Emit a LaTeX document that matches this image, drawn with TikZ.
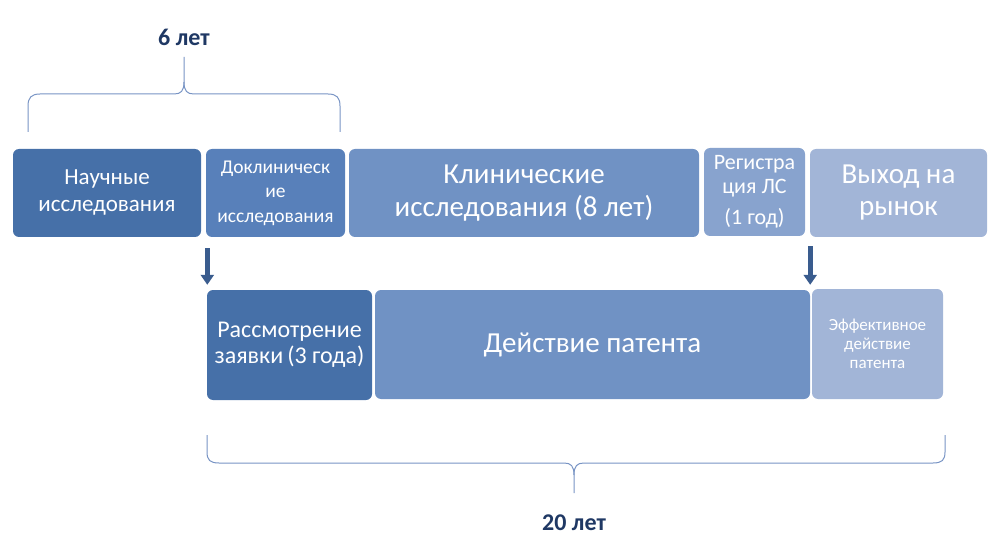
\documentclass[tikz,border=0pt]{standalone}
\usepackage{fontspec}
\setmainfont{Carlito}
\usetikzlibrary{calc,arrows.meta}

\definecolor{phaseA}{RGB}{70,112,168}
\definecolor{phaseB}{RGB}{88,128,186}
\definecolor{phaseC}{RGB}{112,146,196}
\definecolor{phaseD}{RGB}{136,163,206}
\definecolor{phaseE}{RGB}{162,181,215}
\definecolor{arrowblue}{RGB}{58,92,142}
\definecolor{braceblue}{RGB}{120,148,196}
\definecolor{navy}{RGB}{31,56,100}

\begin{document}
\begin{tikzpicture}[x=1pt,y=-1pt,
    phase/.style={
      rectangle,
      rounded corners=6pt,
      fill=#1,
      text=white,
      align=center,
      inner sep=2pt
    },
    brace/.style={draw=braceblue, line width=1pt},
    years/.style={font=\bfseries\fontsize{24}{28}\selectfont, text=navy},
    >={Triangle[width=13pt,length=10pt]}]
  \useasboundingbox (0,0) rectangle (1003,545);
  % upper row
  \node[phase=phaseA, minimum width=188pt, minimum height=88pt,
    font=\fontsize{23}{27}\selectfont] (nauch) at (107,193) {Научные\\исследования};
  \node[phase=phaseB, minimum width=139pt, minimum height=88pt,
    font=\fontsize{19.5}{24.5}\selectfont] (dokl) at (275.5,193) {Доклиническ\\ие\\исследования};
  \node[phase=phaseC, minimum width=350pt, minimum height=88pt,
    font=\fontsize{29}{33}\selectfont] (klin) at (524,193) {Клинические\\исследования (8 лет)};
  \node[phase=phaseD, minimum width=101pt, minimum height=88pt,
    font=\fontsize{22}{24}\selectfont] (reg) at (754.5,192) {Регистра\\ция ЛС\\[7pt](1 год)};
  \node[phase=phaseE, minimum width=177pt, minimum height=88pt,
    font=\fontsize{29}{32}\selectfont] (rynok) at (898.5,193) {Выход на\\рынок};
  % lower row
  \node[phase=phaseA, minimum width=165pt, minimum height=110pt,
    font=\fontsize{24}{26}\selectfont] (rassm) at (289.5,345) {Рассмотрение\\заявки\,(3 года)};
  \node[phase=phaseC, minimum width=435pt, minimum height=109pt,
    font=\fontsize{29}{33}\selectfont] (patent) at (592.5,344.5) {Действие патента};
  \node[phase=phaseE, minimum width=131pt, minimum height=110pt,
    font=\fontsize{17}{19}\selectfont] (effekt) at (877.5,344) {Эффективное\\действие\\патента};
  % arrows
  \draw[->, arrowblue, line width=5pt] let \p1 = (dokl.south west), \p2 = (rassm.north west) in
    (\x1+1.5pt,\y1-11pt) -- (\x1+1.5pt,\y2+5pt);
  \draw[->, arrowblue, line width=5pt] let \p1 = (reg.south east), \p2 = (patent.north east) in
    (\x1+5pt,\y1-10pt) -- (\x1+5pt,\y2+5pt);
  % braces
  \node[years] (six) at (184,37) {6 лет};
  \draw[brace] (28,132) -- (28,106) .. controls (28,98) and (31,94) .. (40,94) -- (174,94)
    .. controls (181,94) and (184,91) .. (184,82) -- (184,57);
  \draw[brace] (184,82) .. controls (184,91) and (187,94) .. (194,94) -- (328,94)
    .. controls (337,94) and (340,98) .. (340,106) -- (340,132);
  \node[years] (twenty) at (574,523) {20 лет};
  \draw[brace] (207,435) -- (207,452) .. controls (207,460) and (210,463) .. (219,463) -- (564,463)
    .. controls (571,463) and (574,466) .. (574,475) -- (574,493);
  \draw[brace] (574,475) .. controls (574,466) and (577,463) .. (584,463) -- (933,463)
    .. controls (942,463) and (945,460) .. (945,452) -- (945,435);
\end{tikzpicture}
\end{document}
